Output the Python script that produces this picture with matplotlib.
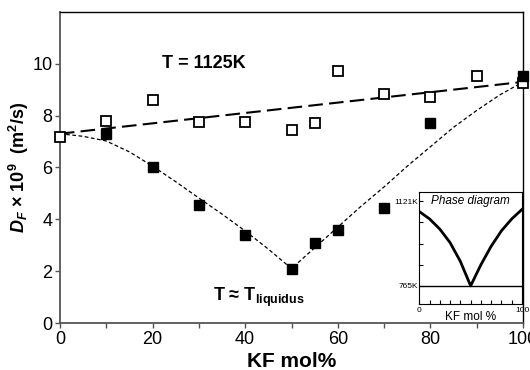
import numpy as np
import matplotlib
matplotlib.use("Agg")
import matplotlib.pyplot as plt

plt.rcParams['font.family'] = ['Liberation Sans', 'DejaVu Sans']
plt.rcParams['mathtext.fontset'] = 'custom'
plt.rcParams['mathtext.rm'] = 'Liberation Sans'
plt.rcParams['mathtext.it'] = 'Liberation Sans:italic'
plt.rcParams['mathtext.bf'] = 'Liberation Sans:bold'
plt.rcParams['mathtext.bfit'] = 'Liberation Sans:italic:bold'

# measured diffusion at T = 1125 K (open squares)
kf_hot = [0, 10, 20, 30, 40, 50, 55, 60, 70, 80, 90, 100]
d_hot = [7.19, 7.79, 8.59, 7.74, 7.74, 7.45, 7.72, 9.73, 8.84, 8.73, 9.53, 9.24]

# measured diffusion near the liquidus (filled squares)
kf_liq = [10, 20, 30, 40, 50, 55, 60, 70, 80, 100]
d_liq = [7.29, 6.02, 4.55, 3.41, 2.08, 3.09, 3.57, 4.42, 7.71, 9.52]

# guide lines
hot_fit_x = [0, 100]
hot_fit_y = [7.3, 9.3]
liq_fit_x = [0, 5, 10, 15, 20, 25, 30, 35, 40, 45, 50,
             55, 60, 65, 70, 75, 80, 85, 90, 95, 100]
liq_fit_y = [7.3, 7.2, 7.02, 6.6, 6.05, 5.45, 4.82, 4.2, 3.55, 2.85, 2.1,
             2.9, 3.7, 4.5, 5.25, 6.05, 6.8, 7.55, 8.2, 8.8, 9.3]

# phase diagram inset (liquidus, K)
pd_x = [0, 10, 20, 30, 40, 50, 60, 70, 80, 90, 100]
pd_t = [1078, 1047, 1004, 947, 868, 765, 854, 932, 997, 1047, 1087]
t_eutectic = 765
t_top = 1121

fig = plt.figure(figsize=(5.3, 3.7), dpi=100)
ax = fig.add_axes([0.113, 0.127, 0.874, 0.841])

ax.plot(hot_fit_x, hot_fit_y, color='black', lw=1.5, dashes=(7, 3), zorder=2)
ax.plot(liq_fit_x, liq_fit_y, color='black', lw=0.9, dashes=(3, 2), zorder=2)
ax.plot(kf_hot, d_hot, 's', ms=7.5, mfc='white', mec='black', mew=1.3,
        ls='none', zorder=3, clip_on=False)
ax.plot(kf_liq, d_liq, 's', ms=7.5, mfc='black', mec='black', mew=1,
        ls='none', zorder=4, clip_on=False)

ax.set_xlim(0, 100)
ax.set_ylim(0, 12)
ax.set_xticks([0, 20, 40, 60, 80, 100])
ax.set_xticks([10, 30, 50, 70, 90], minor=True)
ax.set_yticks([0, 2, 4, 6, 8, 10])
ax.tick_params(axis='both', which='both', direction='out', length=3.5,
               width=1, color='#555555', labelsize=13, pad=2)
for side in ['left', 'bottom']:
    ax.spines[side].set_color('#555555')
    ax.spines[side].set_linewidth(1.3)
for side in ['top', 'right']:
    ax.spines[side].set_linewidth(1.0)

ax.set_xlabel('KF mol%', fontsize=15, fontweight='bold', labelpad=3)
ax.set_ylabel(r'$\mathbfit{D}_{\mathbfit{F}}$ × 10$^{\mathbf{9}}$  (m$^{\mathbf{2}}$/s)',
              fontsize=13, fontweight='bold', labelpad=1)

ax.text(22, 10.0, 'T = 1125K', fontsize=13, fontweight='bold', va='center')
ax.text(33, 1.0, r'T ≈ T$_{\mathbf{liquidus}}$', fontsize=13,
        fontweight='bold', va='center')

# inset
ins = fig.add_axes([0.791, 0.178, 0.194, 0.303])
ins.plot(pd_x, pd_t, color='black', lw=2)
ins.axhline(t_eutectic, color='black', lw=1)
ins.set_xlim(0, 100)
ins.set_ylim(688, 1160)
ins.set_xticks(np.arange(0, 101, 10))
ins.set_xticklabels(['0'] + [''] * 9 + ['100'])
ins.set_yticks(np.linspace(t_eutectic, t_top, 5))
ins.set_yticklabels(['765K', '', '', '', '1121K'])
ins.tick_params(axis='both', direction='in', length=3, width=0.8,
                labelsize=6, pad=1)
ins.tick_params(axis='x', pad=2)
ins.set_xlabel('KF mol %', fontsize=8.5, labelpad=-2)
ins.text(0.5, 0.97, 'Phase diagram', transform=ins.transAxes, ha='center',
         va='top', fontsize=8.5, style='italic')

fig.savefig('out.png', dpi=100)
